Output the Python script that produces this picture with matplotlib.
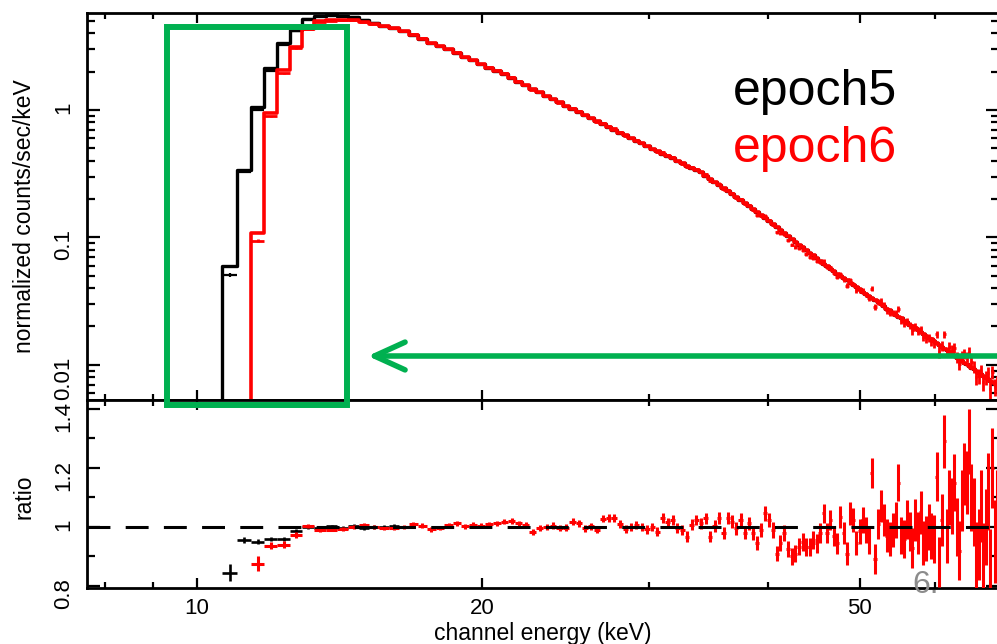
import numpy as np
import matplotlib.pyplot as plt
from matplotlib.patches import Rectangle, FancyArrowPatch
from matplotlib.ticker import FixedLocator, NullFormatter

plt.rcParams['font.family'] = ['Liberation Sans', 'DejaVu Sans']

# channel grid (keV), bin edges
chan_edges = [
    10.64, 11.02, 11.40, 11.78, 12.16, 12.54, 12.92, 13.30, 13.68, 14.06,
    14.44, 14.82, 15.20, 15.58, 15.96, 16.34, 16.72, 17.10, 17.48, 17.86,
    18.24, 18.62, 19.00, 19.38, 19.76, 20.14, 20.52, 20.90, 21.28, 21.66,
    22.04, 22.42, 22.80, 23.18, 23.56, 23.94, 24.32, 24.70, 25.08, 25.46,
    25.84, 26.22, 26.60, 26.98, 27.36, 27.74, 28.12, 28.50, 28.88, 29.26,
    29.64, 30.02, 30.40, 30.78, 31.16, 31.54, 31.92, 32.30, 32.68, 33.06,
    33.44, 33.82, 34.20, 34.58, 34.96, 35.34, 35.72, 36.10, 36.48, 36.86,
    37.24, 37.62, 38.00, 38.38, 38.76, 39.14, 39.52, 39.90, 40.28, 40.66,
    41.04, 41.42, 41.80, 42.18, 42.56, 42.94, 43.32, 43.70, 44.08, 44.46,
    44.84, 45.22, 45.60, 45.98, 46.36, 46.74, 47.12, 47.50, 47.88, 48.26,
    48.64, 49.02, 49.40, 49.78, 50.16, 50.54, 50.92, 51.30, 51.68, 52.06,
    52.44, 52.82, 53.20, 53.58, 53.96, 54.34, 54.72, 55.10, 55.48, 55.86,
    56.24, 56.62, 57.00, 57.38, 57.76, 58.14, 58.52, 58.90, 59.28, 59.66,
    60.04, 60.42, 60.80, 61.18, 61.56, 61.94, 62.32, 62.70, 63.08, 63.46,
    63.84, 64.22, 64.60, 64.98, 65.36, 65.74, 66.12, 66.50, 66.88, 67.26,
    67.64, 68.02, 68.40, 68.78, 69.16, 69.54, 69.92]

# epoch6 (red) folded model, counts/sec/keV, starts at the 3rd channel
model6 = [
    0.108, 0.95, 2.06, 3.14, 4.32, 4.95, 5.08, 5.10, 5.05, 4.88,
    4.75, 4.57, 4.38, 4.15, 3.91, 3.63, 3.38, 3.17, 2.99, 2.79,
    2.61, 2.45, 2.30, 2.15, 2.03, 1.905, 1.78, 1.667, 1.563, 1.466,
    1.377, 1.294, 1.216, 1.147, 1.081, 1.019, 0.963, 0.910, 0.861, 0.815,
    0.772, 0.733, 0.697, 0.662, 0.631, 0.601, 0.573, 0.546, 0.521, 0.498,
    0.475, 0.455, 0.435, 0.416, 0.399, 0.382, 0.366, 0.351, 0.337, 0.3236,
    0.305, 0.288, 0.272, 0.257, 0.243, 0.230, 0.218, 0.2066, 0.196, 0.1858,
    0.1763, 0.1668, 0.1578, 0.1493, 0.1412, 0.1337, 0.1267, 0.1201, 0.1138, 0.1080,
    0.1026, 0.0973, 0.0926, 0.0879, 0.0836, 0.0795, 0.0756, 0.0721, 0.0686, 0.0654,
    0.0623, 0.0593, 0.0567, 0.0542, 0.0519, 0.0498, 0.0478, 0.0459, 0.0440, 0.0423,
    0.0406, 0.0391, 0.0375, 0.0361, 0.0347, 0.0334, 0.0321, 0.0309, 0.0298, 0.0287,
    0.0276, 0.0267, 0.0257, 0.0248, 0.0239, 0.0231, 0.0222, 0.0215, 0.0207, 0.0200,
    0.0193, 0.0187, 0.0181, 0.0175, 0.0169, 0.0163, 0.0158, 0.0153, 0.0148, 0.0143,
    0.0138, 0.0134, 0.0130, 0.0126, 0.0122, 0.0118, 0.0114, 0.0111, 0.0107, 0.0104,
    0.0101, 0.0098, 0.0095, 0.0092, 0.00894, 0.00867, 0.00842, 0.00817, 0.00794, 0.00770,
    0.00748, 0.00727, 0.00706, 0.00687]

# epoch6 data/model ratio and its error
ratio6 = [
    0.875, 0.936, 0.940, 0.973, 1.003, 0.990, 0.991, 0.992, 1.000, 1.007,
    1.000, 0.995, 0.998, 1.001, 1.010, 1.005, 0.992, 0.997, 1.007, 1.013,
    1.002, 1.008, 1.004, 1.010, 1.012, 1.018, 1.020, 1.012, 1.008, 0.984,
    0.996, 1.000, 1.005, 0.997, 0.998, 1.018, 1.012, 0.995, 1.002, 0.990,
    1.028, 1.030, 1.030, 1.010, 0.994, 1.000, 1.006, 1.000, 0.992, 1.000,
    0.984, 1.030, 1.016, 1.024, 0.998, 0.990, 0.967, 1.008, 1.024, 1.012,
    1.030, 0.967, 1.004, 1.030, 0.979, 1.030, 1.018, 0.995, 1.024, 0.980,
    1.012, 0.980, 0.945, 0.990, 1.046, 1.024, 0.990, 0.910, 0.945, 0.980,
    0.925, 0.900, 0.910, 0.933, 0.950, 0.933, 0.933, 0.955, 0.945, 0.980,
    1.046, 0.980, 1.024, 0.970, 0.945, 1.035, 0.980, 0.910, 1.046, 1.024,
    0.945, 0.985, 1.024, 0.990, 0.955, 1.183, 0.890, 1.010, 1.070, 1.024,
    0.970, 0.960, 0.990, 1.024, 1.150, 0.970, 0.960, 1.024, 0.985, 0.930,
    1.024, 0.980, 1.050, 0.945, 0.960, 1.000, 0.970, 0.960, 1.170, 0.880,
    1.024, 1.290, 0.970, 1.100, 1.070, 1.150, 1.000, 0.920, 1.090, 1.180,
    1.150, 1.290, 1.100, 1.050, 0.900, 0.940, 1.070, 0.890, 1.000, 1.120,
    0.860, 1.200, 0.950, 1.050]
ratio6_err = [
    0.025, 0.012, 0.011, 0.010,
    0.006, 0.006, 0.006, 0.007, 0.006, 0.007, 0.007, 0.006, 0.007, 0.007,
    0.007, 0.007, 0.008, 0.007, 0.008,
    0.008, 0.008, 0.008, 0.009, 0.008, 0.009, 0.009, 0.009, 0.010, 0.009,
    0.010, 0.010, 0.010, 0.011, 0.010, 0.011, 0.011, 0.011, 0.012, 0.012,
    0.012, 0.012, 0.013, 0.013, 0.013, 0.014, 0.014, 0.014, 0.015, 0.015,
    0.015, 0.016, 0.016, 0.016, 0.017, 0.017, 0.017, 0.018, 0.018, 0.018,
    0.019, 0.019, 0.019, 0.020, 0.020, 0.020, 0.021, 0.021, 0.022, 0.022,
    0.022, 0.023, 0.023, 0.024, 0.024,
    0.025, 0.025, 0.026, 0.026, 0.027, 0.027, 0.028, 0.028, 0.029, 0.029,
    0.030, 0.030, 0.031, 0.031, 0.032,
    0.033, 0.033, 0.034, 0.035, 0.035, 0.036, 0.037, 0.038, 0.038, 0.039,
    0.040, 0.041, 0.042, 0.043, 0.044,
    0.048, 0.050, 0.051, 0.052, 0.054, 0.055, 0.056, 0.058, 0.059, 0.060,
    0.062, 0.063, 0.064, 0.066, 0.067,
    0.068, 0.070, 0.071, 0.073, 0.074, 0.076, 0.078, 0.079, 0.081, 0.083,
    0.085, 0.087, 0.089, 0.091, 0.093,
    0.095, 0.097, 0.099, 0.101, 0.103, 0.105, 0.107, 0.110, 0.112, 0.115,
    0.117, 0.120, 0.122, 0.125, 0.128, 0.131, 0.134, 0.137, 0.140, 0.143]

# epoch5 (black): low-energy channels differ, above ~15 keV it sits under epoch6
model5_low = [0.06, 0.34, 1.06, 2.12, 3.37, 4.24, 5.15, 5.45, 5.55, 5.50,
              5.38, 5.10, 4.82]
model5 = model5_low + model6[11:]
ratio5 = [0.845, 0.956, 0.950, 0.958, 0.958, 0.985, 1.000, 0.997, 1.002, 0.998,
          1.003, 0.996, 1.001, 0.999, 1.002]
ratio5_err = [0.028, 0.010, 0.008, 0.007, 0.007, 0.007, 0.006, 0.006, 0.006, 0.006,
              0.006, 0.006, 0.007, 0.007, 0.007]

edges = np.array(chan_edges)
centers = 0.5 * (edges[:-1] + edges[1:])
halfw = 0.5 * np.diff(edges)
n6 = len(model6)
e6 = edges[-n6 - 1:]
c6, h6 = centers[-n6:], halfw[-n6:]
m6, r6, s6 = np.array(model6), np.array(ratio6), np.array(ratio6_err)
m5 = np.array(model5)
n5 = len(ratio5)
r5, s5 = np.array(ratio5), np.array(ratio5_err)

W, H = 997, 644
fig = plt.figure(figsize=(W / 100, H / 100), dpi=100)


def box(x0, y0, x1, y1):
    return [x0 / W, 1 - y1 / H, (x1 - x0) / W, (y1 - y0) / H]


ax1 = fig.add_axes(box(87, 13, 998.5, 400))
ax2 = fig.add_axes(box(87, 400, 998.5, 588))

# upper panel: model histograms + data crosses
ax1.step(np.r_[edges[0], edges], np.r_[1e-4, m5, m5[-1]], where='post',
         color='black', lw=2.4, zorder=2)
ax1.errorbar(centers[:n5], m5[:n5] * r5, xerr=halfw[:n5], yerr=m5[:n5] * s5,
             fmt='none', ecolor='black', elinewidth=1.6, zorder=2)
ax1.step(np.r_[e6[0], e6], np.r_[1e-4, m6, m6[-1]], where='post',
         color='red', lw=2.6, zorder=3)
ax1.errorbar(c6, m6 * r6, xerr=h6, yerr=m6 * s6,
             fmt='none', ecolor='red', elinewidth=2.0, zorder=3)
ax1.set_yscale('log')
ax1.set_ylim(0.00529, 5.77)
ax1.set_yticks([0.01, 0.1, 1], labels=['0.01', '0.1', '1'])
ax1.yaxis.set_minor_locator(FixedLocator(
    [k * 10.0 ** d for d in (-3, -2, -1, 0) for k in range(2, 10)]))
ax1.yaxis.set_minor_formatter(NullFormatter())
ax1.set_ylabel('normalized counts/sec/keV', fontsize=16.5)

# lower panel: ratio
ax2.errorbar(centers[:n5], r5, xerr=halfw[:n5], yerr=s5,
             fmt='none', ecolor='black', elinewidth=1.9, zorder=2)
ax2.errorbar(c6, r6, xerr=h6, yerr=s6,
             fmt='none', ecolor='red', elinewidth=2.2, zorder=3)
ax2.axhline(1.0, color='black', lw=2.2, dashes=(7.5, 5), zorder=4)
ax2.set_ylim(0.7932, 1.4305)
ax2.set_yticks([0.8, 1.0, 1.2, 1.4], labels=['0.8', '1', '1.2', '1.4'])
ax2.yaxis.set_minor_locator(FixedLocator([0.9, 1.1, 1.3]))
ax2.set_ylabel('ratio', fontsize=16.5)
ax2.set_xlabel('channel energy (keV)', fontsize=16.5)

for ax in (ax1, ax2):
    ax.set_xscale('log')
    ax.set_xlim(7.66, 70.0)
    ax.xaxis.set_major_locator(FixedLocator([10, 20, 50]))
    ax.xaxis.set_minor_locator(FixedLocator([8, 9, 30, 40, 60, 70]))
    ax.xaxis.set_minor_formatter(NullFormatter())
    ax.tick_params(which='both', direction='in', top=True, right=True,
                   width=1.6, labelsize=16)
    ax.tick_params(axis='x', which='major', length=7.5, pad=7)
    ax.tick_params(axis='x', which='minor', length=4.5)
    ax.tick_params(axis='y', which='major', length=9.5, pad=9, labelrotation=90)
    ax.tick_params(axis='y', which='minor', length=6)
    for s in ax.spines.values():
        s.set_linewidth(2)

ax1.tick_params(labelbottom=False)
ax2.set_xticks([10, 20, 50], labels=['10', '20', '50'])
ax2.xaxis.set_label_coords(0.5, -0.18)
ax1.yaxis.set_label_coords(-0.056, 0.475)
ax2.yaxis.set_label_coords(-0.056, 0.484)

# annotations
fig.text(733 / W, 1 - 105 / H, 'epoch5', color='black', fontsize=36,
         ha='left', va='baseline')
fig.text(733 / W, 1 - 162 / H, 'epoch6', color='red', fontsize=36,
         ha='left', va='baseline')
fig.text(912 / W, 1 - 593 / H, '6.', color='#8c8c8c', fontsize=23,
         ha='left', va='baseline')

green = '#00b050'
fig.add_artist(Rectangle((166.5 / W, 1 - 405 / H), (347 - 166.5) / W,
                         (405 - 26.5) / H, transform=fig.transFigure,
                         fill=False, ec=green, lw=4.3, joinstyle='miter'))
fig.add_artist(FancyArrowPatch((1.02, 1 - 356 / H), (365 / W, 1 - 356 / H),
                               transform=fig.transFigure,
                               arrowstyle='->,head_length=22,head_width=10',
                               mutation_scale=1, color=green, lw=4,
                               capstyle='round', joinstyle='round'))

fig.savefig('out.png', dpi=100)
